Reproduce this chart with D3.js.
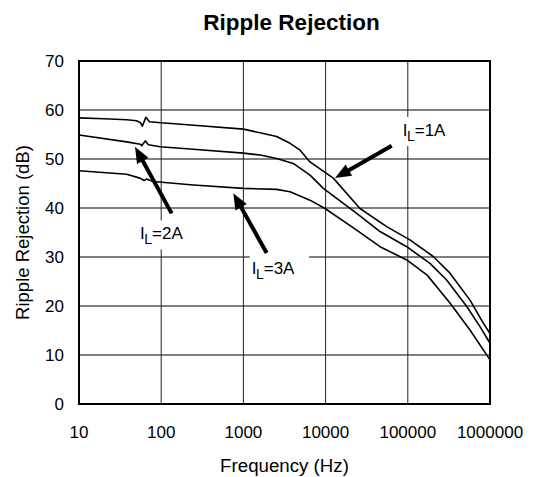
<!DOCTYPE html>
<html>
<head>
<meta charset="utf-8">
<script src="https://cdn.jsdelivr.net/npm/d3@7"></script>
<style>
  html, body { margin: 0; padding: 0; background: #fff; }
  svg { display: block; }
  text { font-family: "Liberation Sans", Arial, sans-serif; fill: #000; }
</style>
</head>
<body>
<svg id="chart" width="535" height="477"></svg>
<script>
// ---- data ----
const chartTitle = "Ripple Rejection";
const xTitle = "Frequency (Hz)";
const yTitle = "Ripple Rejection (dB)";
const xTickValues = [10, 100, 1000, 10000, 100000, 1000000];
const xTickLabels = ["10", "100", "1000", "10000", "100000", "1000000"];
const yTickValues = [0, 10, 20, 30, 40, 50, 60, 70];

const freq1A = [10, 20, 38, 50, 56, 59, 65, 72, 100, 250, 1000, 1750, 2540, 3690, 4900, 6460, 12400, 26200, 55300, 106000, 204000, 326000, 571000, 829000, 1000000];
const db1A   = [58.4, 58.2, 58.0, 57.8, 57.4, 56.7, 58.5, 57.6, 57.4, 56.9, 56.1, 55.2, 54.6, 53.2, 51.8, 49.4, 46.1, 39.9, 36.2, 33.5, 30.1, 26.7, 21.2, 16.5, 14.4];

const freq2A = [10, 38, 56, 58, 64, 70, 97, 246, 1000, 1600, 2540, 4040, 6460, 9380, 23900, 45900, 97000, 186000, 297000, 521000, 756000, 1000000];
const db2A   = [54.9, 53.5, 53.0, 52.7, 53.7, 52.9, 52.5, 52.0, 51.2, 50.8, 50.1, 49.1, 46.7, 44.0, 38.9, 35.2, 32.1, 28.7, 25.3, 19.9, 15.8, 12.4];

const freq3A = [10, 38, 55, 62, 66, 80, 246, 1000, 2540, 3690, 6460, 9840, 23400, 45900, 97000, 172000, 326000, 571000, 1000000];
const db3A   = [47.6, 46.9, 46.1, 45.6, 45.9, 45.4, 44.7, 44.0, 43.8, 43.3, 41.6, 39.9, 35.6, 32.1, 29.4, 26.3, 20.6, 15.1, 9.0];

const seriesNames = ["1A", "2A", "3A"];
// annotation arrows in data coordinates: [tailFreq, tailDb, tipFreq, tipDb]
const arrows = [
  [63700, 52.7, 13000, 46.1],
  [134, 38.9, 48, 52.5],
  [1920, 30.8, 753, 43.0]
];
// label anchors in data coordinates: [freq, dB] (baseline-left)
const labelPos = [
  [86700, 54.7],
  [55.2, 33.6],
  [1262, 26.5]
];

// ---- layout ----
const svg = d3.select("#chart");
const x = d3.scaleLog().domain([10, 1000000]).range([79, 490]);
const y = d3.scaleLinear().domain([0, 70]).range([404, 61]);

// grid
const g = svg.append("g");
g.selectAll(".hgrid").data(yTickValues.filter(v => v > 0 && v < 70)).enter()
  .append("line")
  .attr("x1", x(10)).attr("x2", x(1000000))
  .attr("y1", d => y(d)).attr("y2", d => y(d))
  .attr("stroke", "#000").attr("stroke-width", 1);
g.selectAll(".vgrid").data(xTickValues.filter(v => v > 10 && v < 1000000)).enter()
  .append("line")
  .attr("x1", d => x(d)).attr("x2", d => x(d))
  .attr("y1", y(0)).attr("y2", y(70))
  .attr("stroke", "#222").attr("stroke-width", 1);

// label backgrounds (white boxes) – computed from text later
const labelLayer = svg.append("g");

// curves
const line = d3.line().x(d => x(d[0])).y(d => y(d[1]));
const series = [
  d3.zip(freq1A, db1A),
  d3.zip(freq2A, db2A),
  d3.zip(freq3A, db3A)
];
svg.append("g").selectAll("path").data(series).enter()
  .append("path")
  .attr("d", line)
  .attr("fill", "none")
  .attr("stroke", "#000")
  .attr("stroke-width", 1.6)
  .attr("stroke-linejoin", "round");

// border
svg.append("rect")
  .attr("x", x(10)).attr("y", y(70))
  .attr("width", x(1000000) - x(10)).attr("height", y(0) - y(70))
  .attr("fill", "none").attr("stroke", "#000").attr("stroke-width", 2);

// axis tick labels
svg.append("g").selectAll("text").data(yTickValues).enter()
  .append("text")
  .attr("x", 64).attr("y", d => y(d) + 6)
  .attr("text-anchor", "end")
  .style("font-size", "17px")
  .text(d => d);
svg.append("g").selectAll("text").data(xTickValues).enter()
  .append("text")
  .attr("x", d => x(d)).attr("y", 437.5)
  .attr("text-anchor", "middle")
  .style("font-size", "17px")
  .text((d, i) => xTickLabels[i]);

// titles
svg.append("text")
  .attr("x", 291.5).attr("y", 29.5)
  .attr("text-anchor", "middle")
  .style("font-size", "22.5px").style("font-weight", "bold")
  .text(chartTitle);
svg.append("text")
  .attr("x", 284.5).attr("y", 472)
  .attr("text-anchor", "middle")
  .style("font-size", "18.7px")
  .text(xTitle);
svg.append("text")
  .attr("transform", "translate(28.5," + ((y(0) + y(70)) / 2) + ") rotate(-90)")
  .attr("text-anchor", "middle")
  .style("font-size", "18.5px")
  .text(yTitle);

// annotation labels
const texts = [];
seriesNames.forEach((name, i) => {
  const t = svg.append("text")
    .attr("x", x(labelPos[i][0])).attr("y", y(labelPos[i][1]))
    .style("font-size", "17px");
  t.append("tspan").text("I");
  t.append("tspan").attr("dy", 5).attr("dx", -0.5).style("font-size", "14px").text("L");
  t.append("tspan").attr("dy", -5).text("=" + name);
  texts.push(t);
});
texts.forEach(t => {
  const b = t.node().getBBox();
  labelLayer.append("rect")
    .attr("x", b.x - 2).attr("y", b.y - 4)
    .attr("width", b.width + 16).attr("height", b.height + 6)
    .attr("fill", "#fff");
});

// arrows
const arrowG = svg.append("g");
arrows.forEach(a => {
  const x0 = x(a[0]), y0 = y(a[1]), x1 = x(a[2]), y1 = y(a[3]);
  const dx = x1 - x0, dy = y1 - y0, len = Math.hypot(dx, dy);
  const ux = dx / len, uy = dy / len;
  const headLen = 16, headHalf = 6.5;
  const bx = x1 - ux * headLen, by = y1 - uy * headLen;
  arrowG.append("line")
    .attr("x1", x0).attr("y1", y0).attr("x2", bx + ux * 2).attr("y2", by + uy * 2)
    .attr("stroke", "#000").attr("stroke-width", 4);
  arrowG.append("polygon")
    .attr("points", [
      [x1, y1],
      [bx - uy * headHalf, by + ux * headHalf],
      [bx + uy * headHalf, by - ux * headHalf]
    ].map(p => p.join(",")).join(" "))
    .attr("fill", "#000");
});
</script>
</body>
</html>
